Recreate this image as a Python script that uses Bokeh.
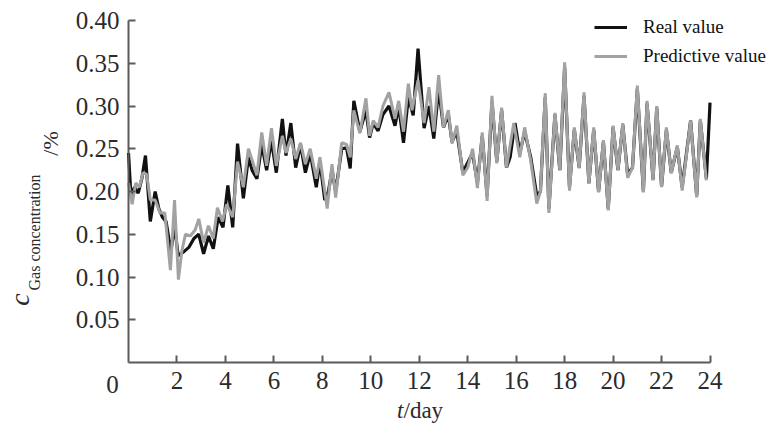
import math
from bokeh.plotting import figure
from bokeh.models import Range1d, FixedTicker, Label, Legend, LegendItem, CustomJSTickFormatter
from bokeh.embed import file_html
from bokeh.resources import INLINE

# ---- data (t in days, concentration in %) ----
real_t = [0, 0.1, 0.25, 0.4, 0.55, 0.7, 0.9, 1.1, 1.25, 1.4, 1.55, 1.75, 1.9, 2.05, 2.3, 2.5,
          2.7, 2.9, 3.1, 3.3, 3.5, 3.7, 3.9, 4.1, 4.3, 4.5, 4.74, 4.95, 5.1, 5.3, 5.5, 5.7,
          5.9, 6.1, 6.35, 6.5, 6.7, 6.9, 7.1, 7.3, 7.5, 7.75, 7.9, 8.1, 8.25, 8.4, 8.55, 8.8,
          9.0, 9.15, 9.3, 9.55, 9.8, 9.95, 10.1, 10.3, 10.5, 10.75, 11.0, 11.15, 11.35, 11.55,
          11.75, 11.95, 12.2, 12.4, 12.6, 12.8, 13.0, 13.2, 13.35, 13.55, 13.8, 13.9, 14.2,
          14.4, 14.6, 14.8, 15.0, 15.2, 15.4, 15.6, 15.75, 15.95, 16.15, 16.35, 16.6, 16.85,
          17.0, 17.2, 17.35, 17.6, 17.8, 18.0, 18.2, 18.4, 18.6, 18.8, 19.0, 19.2, 19.4, 19.6,
          19.8, 20.0, 20.2, 20.4, 20.6, 20.8, 21.0, 21.25, 21.4, 21.65, 21.8, 22.0, 22.2, 22.4,
          22.65, 22.85, 23.2, 23.45, 23.6, 23.85, 24.0]
real_v = [0.245, 0.195, 0.205, 0.198, 0.215, 0.242, 0.165, 0.200, 0.180, 0.170, 0.165, 0.130,
          0.160, 0.125, 0.130, 0.135, 0.145, 0.150, 0.127, 0.148, 0.133, 0.170, 0.158, 0.207,
          0.158, 0.256, 0.192, 0.240, 0.225, 0.215, 0.255, 0.225, 0.260, 0.222, 0.285, 0.242,
          0.280, 0.228, 0.255, 0.222, 0.245, 0.205, 0.235, 0.190, 0.200, 0.225, 0.200, 0.250,
          0.251, 0.227, 0.306, 0.270, 0.295, 0.263, 0.280, 0.271, 0.290, 0.300, 0.277, 0.300,
          0.257, 0.310, 0.289, 0.367, 0.274, 0.300, 0.262, 0.320, 0.275, 0.290, 0.258, 0.270,
          0.222, 0.228, 0.245, 0.210, 0.265, 0.195, 0.305, 0.235, 0.295, 0.228, 0.240, 0.280,
          0.245, 0.270, 0.240, 0.195, 0.200, 0.310, 0.180, 0.290, 0.225, 0.345, 0.205, 0.272,
          0.228, 0.312, 0.210, 0.272, 0.200, 0.258, 0.180, 0.275, 0.225, 0.278, 0.220, 0.228,
          0.320, 0.200, 0.303, 0.214, 0.298, 0.206, 0.272, 0.222, 0.252, 0.205, 0.283, 0.195,
          0.283, 0.215, 0.304]

pred_t = [0, 0.15, 0.3, 0.45, 0.6, 0.75, 0.9, 1.1, 1.3, 1.5, 1.73, 1.9, 2.06, 2.2, 2.35, 2.55,
          2.75, 2.9, 3.1, 3.3, 3.5, 3.67, 3.88, 4.05, 4.3, 4.5, 4.74, 4.95, 5.3, 5.5, 5.7, 5.9,
          6.1, 6.35, 6.5, 6.7, 6.9, 7.1, 7.3, 7.5, 7.75, 7.9, 8.2, 8.4, 8.55, 8.8, 9.0, 9.15,
          9.3, 9.55, 9.8, 9.95, 10.1, 10.3, 10.5, 10.75, 11.0, 11.15, 11.35, 11.55, 11.7, 11.95,
          12.2, 12.4, 12.6, 12.8, 13.0, 13.2, 13.35, 13.55, 13.8, 14.0, 14.2, 14.4, 14.6, 14.8,
          15.0, 15.2, 15.4, 15.6, 15.9, 16.15, 16.35, 16.6, 16.85, 17.0, 17.2, 17.35, 17.6,
          17.8, 18.0, 18.2, 18.4, 18.6, 18.8, 19.0, 19.2, 19.4, 19.6, 19.8, 20.0, 20.2, 20.4,
          20.6, 20.8, 21.0, 21.25, 21.4, 21.65, 21.8, 22.0, 22.2, 22.4, 22.65, 22.85, 23.2,
          23.45, 23.6, 23.85]
pred_v = [0.210, 0.185, 0.210, 0.205, 0.222, 0.220, 0.190, 0.190, 0.175, 0.175, 0.108, 0.190,
          0.097, 0.130, 0.150, 0.148, 0.155, 0.168, 0.140, 0.160, 0.145, 0.181, 0.165, 0.185,
          0.170, 0.235, 0.205, 0.250, 0.219, 0.269, 0.230, 0.274, 0.230, 0.265, 0.245, 0.262,
          0.238, 0.257, 0.232, 0.250, 0.215, 0.240, 0.180, 0.232, 0.193, 0.257, 0.255, 0.240,
          0.295, 0.268, 0.309, 0.265, 0.283, 0.275, 0.300, 0.316, 0.285, 0.306, 0.270, 0.326,
          0.295, 0.330, 0.280, 0.322, 0.270, 0.336, 0.275, 0.295, 0.256, 0.277, 0.219, 0.228,
          0.250, 0.204, 0.269, 0.189, 0.312, 0.233, 0.298, 0.228, 0.280, 0.240, 0.275, 0.236,
          0.186, 0.200, 0.315, 0.175, 0.292, 0.225, 0.351, 0.201, 0.275, 0.227, 0.316, 0.209,
          0.275, 0.199, 0.260, 0.178, 0.277, 0.225, 0.280, 0.216, 0.228, 0.324, 0.199, 0.306,
          0.213, 0.300, 0.205, 0.275, 0.221, 0.254, 0.201, 0.283, 0.193, 0.285, 0.213]

x_ticks = [2, 4, 6, 8, 10, 12, 14, 16, 18, 20, 22, 24]
y_ticks = [0.05, 0.10, 0.15, 0.20, 0.25, 0.30, 0.35, 0.40]
series_names = ["Real value", "Predictive value"]

SERIF = "Liberation Serif"
AXIS_COL = "#5a5a5a"
TXT_COL = "#2b2b2b"
W, H = 771, 429
PX_PER_DAY = 24.23
PX_PER_UNIT = 855.0
ORIGIN_X, ORIGIN_Y = 128, 362   # pixel position of the (0, 0) corner

# frame covers the whole canvas; axes are pinned at x=0 / y=0 with fixed_location
p = figure(width=W, height=H, output_backend="svg", toolbar_location=None,
           x_range=Range1d(-ORIGIN_X / PX_PER_DAY, (W - ORIGIN_X) / PX_PER_DAY),
           y_range=Range1d(-(H - ORIGIN_Y) / PX_PER_UNIT, ORIGIN_Y / PX_PER_UNIT),
           min_border=0)
p.outline_line_color = None
p.xgrid.visible = False
p.ygrid.visible = False
p.background_fill_color = "white"

r_real = p.line(real_t, real_v, line_color="#111111", line_width=3.2)
r_pred = p.line(pred_t, pred_v, line_color="#a2a2a2", line_width=3)

for ax, ticks, bounds in ((p.xaxis[0], x_ticks, (0, 24)), (p.yaxis[0], y_ticks, (0, 0.40))):
    ax.fixed_location = 0
    ax.ticker = FixedTicker(ticks=ticks)
    ax.bounds = bounds
    ax.axis_line_color = AXIS_COL
    ax.axis_line_width = 2
    ax.major_tick_line_color = AXIS_COL
    ax.major_tick_line_width = 2
    ax.major_tick_in = 7
    ax.major_tick_out = 0
    ax.minor_tick_line_color = None
    ax.major_label_text_font = SERIF
    ax.major_label_text_font_size = "25px"
    ax.major_label_text_color = TXT_COL

p.yaxis[0].formatter = CustomJSTickFormatter(code="return tick.toFixed(2);")
p.yaxis[0].major_label_standoff = 9
p.xaxis[0].major_label_standoff = 9

def add_label(text, img_x, img_y, size, style="normal", angle=0.0, align="center"):
    p.add_layout(Label(x=img_x, y=H - img_y, x_units="screen", y_units="screen", text=text,
                       text_font=SERIF, text_font_size=size, text_font_style=style,
                       text_color=TXT_COL, text_align=align, text_baseline="middle",
                       angle=angle))

# origin "0" label of the x axis
add_label("0", 112, 384, "25px")
# x axis title: t/day
add_label("t", 403, 410, "23px", style="italic", align="right")
add_label("/day", 403, 410, "23px", align="left")
# y axis title: c_Gas concentration /%
add_label("c", 19, 299, "28px", style="italic", angle=math.pi / 2)
add_label("Gas concentration", 34, 232, "16px", angle=math.pi / 2)
add_label("/%", 50, 143, "22px", angle=math.pi / 2)

legend = Legend(items=[LegendItem(label=series_names[0], renderers=[r_real]),
                       LegendItem(label=series_names[1], renderers=[r_pred])],
                location=(590, 358))
legend.label_text_font = SERIF
legend.label_text_font_size = "19px"
legend.label_text_color = "#111111"
legend.glyph_width = 33
legend.glyph_height = 22
legend.label_height = 22
legend.label_standoff = 16
legend.spacing = 7
legend.padding = 4
legend.margin = 0
legend.border_line_alpha = 0
legend.background_fill_alpha = 0
p.add_layout(legend)

open("out.html", "w").write(file_html(p, INLINE))
